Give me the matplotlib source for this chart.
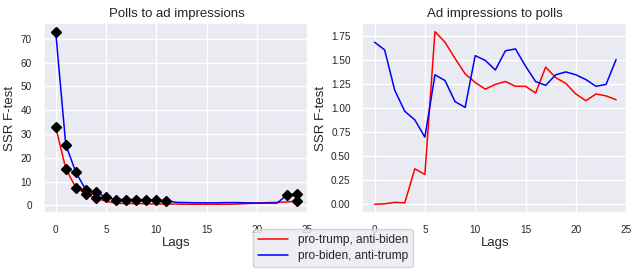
import matplotlib
matplotlib.use("Agg")
import matplotlib.pyplot as plt
import seaborn as sns
import numpy as np

sns.set_theme(style="darkgrid")
plt.rcParams['font.family'] = ['Liberation Sans', 'DejaVu Sans']

lags = list(range(25))

# polls -> ad impressions
polls_trump = [33, 15.5, 7.5, 5, 3, 1.8, 0.9, 0.8, 0.8, 0.7, 0.6, 0.6, 0.6,
               0.5, 0.5, 0.5, 0.5, 0.5, 0.6, 0.8, 1.0, 1.2, 1.3, 1.5, 1.8]
polls_biden = [73, 25.5, 14, 6.5, 5.5, 3.5, 2.5, 2.5, 2.5, 2.3, 2.3, 2.0, 1.3,
               1.2, 1.1, 1.1, 1.1, 1.2, 1.2, 1.1, 1.0, 1.0, 1.0, 4.5, 4.8]
sig_trump = [0, 1, 2, 3, 4, 24]
sig_biden = [0, 1, 2, 3, 4, 5, 6, 7, 8, 9, 10, 11, 23, 24]

# ad impressions -> polls
ads_trump = [0.0, 0.005, 0.02, 0.015, 0.37, 0.31, 1.80, 1.69, 1.52, 1.36, 1.27,
             1.20, 1.25, 1.28, 1.23, 1.23, 1.16, 1.43, 1.32, 1.26, 1.15, 1.08,
             1.15, 1.13, 1.09]
ads_biden = [1.69, 1.61, 1.19, 0.97, 0.88, 0.70, 1.35, 1.29, 1.07, 1.01, 1.55,
             1.50, 1.40, 1.60, 1.62, 1.44, 1.28, 1.24, 1.35, 1.38, 1.35, 1.30,
             1.23, 1.25, 1.51]

fig, (ax1, ax2) = plt.subplots(1, 2, figsize=(6.32, 2.74), dpi=100)
fig.subplots_adjust(left=0.069, right=0.994, top=0.916, bottom=0.223, wspace=0.2)

l1, = ax1.plot(lags, polls_trump, color='red', lw=1.1, label='pro-trump, anti-biden')
l2, = ax1.plot(lags, polls_biden, color='blue', lw=1.1, label='pro-biden, anti-trump')
ax1.plot(sig_trump, [polls_trump[i] for i in sig_trump], 'D', color='black', ms=5, ls='none')
ax1.plot(sig_biden, [polls_biden[i] for i in sig_biden], 'D', color='black', ms=5, ls='none')
ax1.set_title("Polls to ad impressions", fontsize=9.5, pad=4)

ax2.plot(lags, ads_trump, color='red', lw=1.1)
ax2.plot(lags, ads_biden, color='blue', lw=1.1)
ax2.set_title("Ad impressions to polls", fontsize=9.5, pad=4)

for ax in (ax1, ax2):
    ax.set_xlabel("Lags", fontsize=9.5, labelpad=2)
    ax.set_ylabel("SSR F-test", fontsize=9.5, labelpad=3)
    ax.tick_params(labelsize=7.2, pad=2.5)
    ax.set_xticks([0, 5, 10, 15, 20, 25])
ax1.set_yticks([0, 10, 20, 30, 40, 50, 60, 70])
ax2.set_yticks([0, 0.25, 0.5, 0.75, 1.0, 1.25, 1.5, 1.75])

fig.legend(handles=[l1, l2], loc='lower center', bbox_to_anchor=(0.527, 0.003),
           fontsize=8.6, frameon=True, borderpad=0.4, handlelength=2.5,
           labelspacing=0.35, facecolor='#EAEAF2', edgecolor='0.8')

fig.savefig("out.png", dpi=100)
